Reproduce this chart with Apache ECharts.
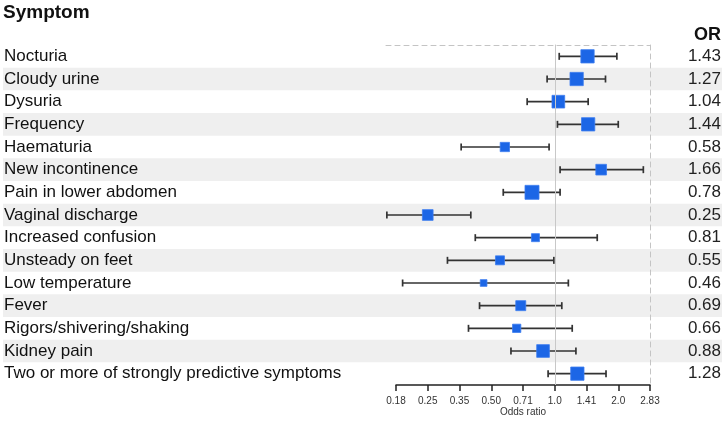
<!DOCTYPE html>
<html>
<head>
<meta charset="utf-8">
<script src="https://cdn.jsdelivr.net/npm/echarts@6/dist/echarts.min.js"></script>
<style>
html,body{margin:0;padding:0;background:#fff;}
#chart{width:727px;height:421px;}
</style>
</head>
<body>
<div id="chart"></div>
<script>
var symptoms = ["Nocturia","Cloudy urine","Dysuria","Frequency","Haematuria","New incontinence","Pain in lower abdomen","Vaginal discharge","Increased confusion","Unsteady on feet","Low temperature","Fever","Rigors/shivering/shaking","Kidney pain","Two or more of strongly predictive symptoms"];
var oddsRatio = [1.43,1.27,1.04,1.44,0.58,1.66,0.78,0.25,0.81,0.55,0.46,0.69,0.66,0.88,1.28];
var ciLower = [1.05,0.92,0.74,1.03,0.36,1.06,0.57,0.16,0.42,0.31,0.19,0.44,0.39,0.62,0.93];
var ciUpper = [1.97,1.74,1.44,2.00,0.94,2.63,1.06,0.40,1.59,0.99,1.16,1.08,1.21,1.26,1.75];
var weights = [13.3,13.3,12.7,13.3,9.3,10.7,14,10.7,8,9,6.7,10,8.3,12.7,13.3];
var tickValues = ["0.18","0.25","0.35","0.50","0.71","1.0","1.41","2.0","2.83"];

var log2 = function(v){ return Math.log(v)/Math.LN2; };
var pointData = oddsRatio.map(function(v,i){ return [log2(v), i, weights[i]]; });
var ciData = oddsRatio.map(function(v,i){ return [log2(ciLower[i]), log2(ciUpper[i]), i]; });

var chart = echarts.init(document.getElementById('chart'));
var font = 'Liberation Sans, Arial, sans-serif';
var dash = {color:'#c4c4c4', type:[5,4], width:1};
var option = {
  animation:false,
  textStyle:{fontFamily:font},
  title:[
    {text:'Symptom', left:3, top:3, padding:0, textStyle:{fontFamily:font, fontSize:19, fontWeight:'bold', color:'#111'}},
    {text:'OR', right:6, top:26, padding:0, textStyle:{fontFamily:font, fontSize:18, fontWeight:'bold', color:'#111'}}
  ],
  grid:[
    {left:3, right:5, top:45, bottom:36},
    {left:386, right:77, top:45, bottom:36},
    {left:396, right:77, top:380, bottom:36}
  ],
  xAxis:[
    {gridIndex:0, type:'value', show:false},
    {gridIndex:1, type:'value', min:-2.6575, max:1.5, position:'top',
     axisLine:{show:true, lineStyle:dash}, axisTick:{show:false}, axisLabel:{show:false}, splitLine:{show:false}},
    {gridIndex:2, type:'value', min:-2.5, max:1.5, interval:0.5, position:'bottom',
     axisLine:{show:true, lineStyle:{color:'#222', width:1.5}},
     axisTick:{show:true, length:6, lineStyle:{color:'#222', width:1.5}},
     axisLabel:{show:true, fontSize:10, color:'#333', margin:11, fontFamily:font,
       formatter:function(v){ var k = Math.round((v+2.5)/0.5); return tickValues[k]; }},
     splitLine:{show:false},
     name:'Odds ratio', nameLocation:'middle', nameGap:22, nameTextStyle:{fontSize:10, color:'#333', fontFamily:font}}
  ],
  yAxis:[
    {gridIndex:0, type:'category', data:symptoms, inverse:true, position:'left',
     axisLine:{show:false}, axisTick:{show:false},
     axisLabel:{inside:true, margin:1, fontSize:17, color:'#111', fontFamily:font},
     splitArea:{show:true, areaStyle:{color:['rgba(255,255,255,0)','#efefef']}}},
    {gridIndex:0, type:'category', data:symptoms, inverse:true, position:'right',
     axisLine:{show:false}, axisTick:{show:false},
     axisLabel:{inside:true, margin:1, fontSize:17, color:'#222', fontFamily:font,
       formatter:function(v,i){ return oddsRatio[i].toFixed(2); }}},
    {gridIndex:1, type:'category', data:symptoms, inverse:true, position:'left',
     axisLine:{show:true, lineStyle:dash}, axisTick:{show:false}, axisLabel:{show:false}},
    {gridIndex:1, type:'category', data:symptoms, inverse:true, position:'right',
     axisLine:{show:true, lineStyle:dash}, axisTick:{show:false}, axisLabel:{show:false}},
    {gridIndex:2, type:'value', show:false}
  ],
  series:[
    {type:'custom', xAxisIndex:1, yAxisIndex:2, data:ciData, z:3,
     renderItem:function(params, api){
       var y = api.value(2);
       var a = api.coord([api.value(0), y]);
       var b = api.coord([api.value(1), y]);
       var h = 3.5;
       var st = {stroke:'#333', lineWidth:1.7};
       return {type:'group', children:[
         {type:'line', shape:{x1:a[0], y1:a[1], x2:b[0], y2:b[1]}, style:st},
         {type:'line', shape:{x1:a[0], y1:a[1]-h, x2:a[0], y2:a[1]+h}, style:st},
         {type:'line', shape:{x1:b[0], y1:b[1]-h, x2:b[0], y2:b[1]+h}, style:st}
       ]};
     },
     markLine:{silent:true, symbol:'none', label:{show:false},
       lineStyle:{color:'#c8c8c8', type:'solid', width:1},
       data:[{xAxis:0}]}
    },
    {type:'scatter', xAxisIndex:1, yAxisIndex:2, data:pointData, z:4,
     symbol:'rect', symbolSize:function(d){ return d[2]; },
     itemStyle:{color:'#1c66e6', borderColor:'#3d7df0', borderWidth:0.8, opacity:1}}
  ]
};
chart.setOption(option);
</script>
</body>
</html>
